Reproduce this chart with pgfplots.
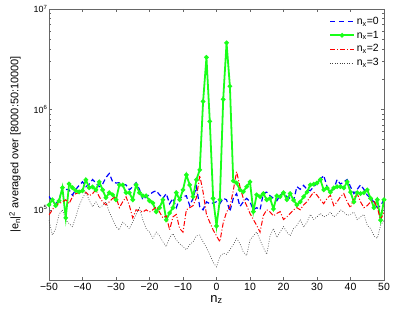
\documentclass[border=0pt]{standalone}
\usepackage{pgfplots}
\pgfplotsset{compat=1.18}
\usepackage{pgfplotstable}
\usepackage{fontspec}
\setmainfont{Liberation Sans}
\definecolor{mgreen}{rgb}{0.1,1,0.1}
\definecolor{mblue}{rgb}{0,0,1}
\definecolor{mred}{rgb}{1,0,0}
\definecolor{mgray}{rgb}{0.25,0.25,0.25}
\pgfplotstableread{
nz b g r k
-50 1.36e5 1.12e5 8.9e4 7.9e4
-49 1.2e5 1.26e5 1.0e5 5.6e4
-48 1.15e5 1.1e5 1.12e5 6.5e4
-47 1.25e5 1.23e5 1.15e5 9.0e4
-46 1.66e5 1.66e5 1.2e5 1.0e5
-45 1.6e5 8.3e4 1.26e5 7.9e4
-44 1.58e5 1.81e5 1.15e5 7.3e4
-43 1.4e5 1.66e5 1.35e5 6.8e4
-42 1.6e5 1.55e5 1.45e5 8.5e4
-41 1.75e5 1.51e5 1.48e5 1.1e5
-40 1.9e5 1.55e5 1.5e5 1.3e5
-39 1.7e5 1.99e5 1.5e5 1.5e5
-38 1.8e5 1.66e5 1.38e5 1.25e5
-37 2.0e5 1.69e5 1.45e5 1.07e5
-36 1.85e5 1.58e5 1.58e5 1.2e5
-35 1.7e5 1.9e5 1.35e5 1.05e5
-34 1.8e5 1.58e5 1.2e5 1.1e5
-33 2.1e5 1.32e5 1.12e5 1.2e5
-32 2.3e5 1.48e5 1.2e5 9.5e4
-31 1.9e5 1.41e5 1.3e5 8.0e4
-30 1.85e5 1.26e5 1.35e5 6.8e4
-29 1.86e5 1.77e5 1.05e5 6.3e4
-28 1.8e5 1.77e5 1.2e5 7.6e4
-27 1.77e5 1.48e5 1.35e5 7.0e4
-26 1.58e5 1.48e5 1.1e5 6.5e4
-25 1.7e5 1.26e5 8.3e4 7.6e4
-24 1.86e5 1.77e5 1.0e5 9.0e4
-23 1.6e5 1.48e5 9.8e4 1.05e5
-22 1.26e5 1.38e5 9.5e4 8.0e4
-21 1.35e5 1.38e5 1.0e5 6.5e4
-20 1.41e5 1.23e5 9.5e4 6.0e4
-19 1.5e5 1.17e5 1.0e5 5.2e4
-18 1.55e5 9.55e4 1.07e5 6.0e4
-17 1.41e5 1.05e5 9.5e4 5.5e4
-16 1.3e5 1.26e5 8.3e4 4.8e4
-15 1.45e5 7.95e4 8.7e4 4.3e4
-14 1.15e5 9.3e4 6.3e4 5.3e4
-13 1.3e5 1.05e5 8.5e4 5.8e4
-12 1.05e5 1.48e5 9.0e4 5.0e4
-11 1.3e5 1.26e5 6.5e4 4.6e4
-10 1.35e5 1.58e5 6.0e4 4.3e4
-9 1.38e5 2.23e5 1.0e5 4.0e4
-8 1.1e5 1.77e5 1.05e5 4.5e4
-7 1.3e5 1.35e5 1.1e5 4.8e4
-6 1.7e5 1.99e5 1.32e5 5.5e4
-5 1.07e5 2.5e5 2.2e5 5.6e4
-4 1.0e5 1.2e6 1.5e5 4.8e4
-3 1.2e5 3.3e6 9.0e4 4.2e4
-2 1.15e5 7.6e5 7.5e4 3.6e4
-1 1.17e5 1.3e5 6.3e4 3.0e4
0 1.2e5 6.9e4 5.5e4 2.7e4
1 1.15e5 1.26e5 4.8e4 3.4e4
2 1.3e5 1.26e6 7.4e4 3.7e4
3 1.26e5 4.6e6 9.5e4 3.6e4
4 9.6e4 1.7e6 1.07e5 4.0e4
5 1.3e5 1.94e5 1.55e5 4.5e4
6 1.45e5 1.85e5 2.4e5 5.2e4
7 1.08e5 1.58e5 1.7e5 4.6e4
8 1.2e5 1.51e5 1.3e5 3.8e4
9 1.3e5 1.7e5 1.1e5 3.5e4
10 1.2e5 1.9e5 9.2e4 5.0e4
11 1.0e5 9.6e4 8.0e4 5.5e4
12 1.05e5 1.41e5 7.0e4 6.0e4
13 1.0e5 1.35e5 6.0e4 5.0e4
14 1.47e5 1.45e5 8.8e4 4.2e4
15 1.5e5 1.26e5 1.0e5 3.6e4
16 1.38e5 1.3e5 9.5e4 5.5e4
17 1.3e5 1.02e5 8.7e4 6.5e4
18 1.23e5 1.38e5 9.2e4 5.3e4
19 1.4e5 1.35e5 9.6e4 6.0e4
20 1.48e5 1.48e5 8.0e4 6.8e4
21 1.35e5 1.26e5 8.5e4 6.0e4
22 1.3e5 1.45e5 9.2e4 5.5e4
23 1.23e5 1.25e5 1.0e5 6.5e4
24 1.7e5 1.12e5 1.05e5 7.0e4
25 1.6e5 1.2e5 1.0e5 8.0e4
26 1.75e5 1.35e5 1.12e5 6.7e4
27 1.6e5 1.5e5 1.2e5 7.5e4
28 1.55e5 1.77e5 1.35e5 9.0e4
29 1.7e5 1.8e5 1.5e5 8.0e4
30 1.85e5 1.85e5 1.4e5 8.5e4
31 2.0e5 2.0e5 1.26e5 9.2e4
32 2.2e5 1.58e5 1.15e5 8.5e4
33 1.7e5 1.65e5 1.3e5 8.8e4
34 1.55e5 1.5e5 1.4e5 9.5e4
35 1.6e5 1.65e5 1.1e5 8.5e4
36 2.0e5 1.7e5 1.2e5 9.0e4
37 1.8e5 1.7e5 1.35e5 1.0e5
38 1.9e5 1.65e5 1.45e5 9.5e4
39 2.0e5 1.9e5 1.2e5 8.8e4
40 1.7e5 1.5e5 1.05e5 9.0e4
41 1.45e5 1.2e5 1.3e5 9.5e4
42 1.6e5 1.48e5 1.45e5 8.0e4
43 1.77e5 1.45e5 1.2e5 8.5e4
44 1.6e5 1.48e5 1.05e5 9.0e4
45 1.4e5 1.58e5 1.1e5 7.0e4
46 1.3e5 1.3e5 1.2e5 6.5e4
47 1.2e5 1.05e5 1.23e5 5.5e4
48 1.05e5 1.26e5 1.05e5 5.2e4
49 1.1e5 7.9e4 7.9e4 7.0e4
50 1.26e5 1.26e5 9.6e4 7.9e4
}\data
\begin{document}
\begin{tikzpicture}
\begin{axis}[
  scale only axis, width=335bp, height=271bp,
  ymode=log, xmin=-50, xmax=50, ymin=2e4, ymax=1e7,
  axis line style={draw=gray!80!black, line width=0.7pt},
  tick style={gray!80!black, line width=0.5pt},
  major tick length=3.5bp, minor tick length=2bp,
  tick align=inside,
  xtick={-50,-40,...,50},
  xticklabels={−50,−40,−30,−20,−10,0,10,20,30,40,50},
  ytick={1e5,1e6,1e7},
  yticklabels={10\textsuperscript{5},10\textsuperscript{6},10\textsuperscript{7}},
  yticklabel style={font=\fontsize{9}{10}\selectfont, xshift=2bp},
  xticklabel style={font=\fontsize{10.5}{12}\selectfont},
  xlabel={n\textsubscript{z}},
  xlabel style={font=\fontsize{13}{14}\selectfont, at={(rel axis cs:0.5,0)}, anchor=north, inner sep=0pt, yshift=-15bp},
  ylabel={|e\textsubscript{n}|\textsuperscript{2} averaged over [8000:50:10000]},
  ylabel style={font=\fontsize{11}{12}\selectfont, at={(rel axis cs:0,0.5)}, anchor=center, yshift=34bp},
  legend style={draw=none, fill=none, at={(rel axis cs:1,1)}, anchor=north east, xshift=-2bp, yshift=-5bp,
    font=\fontsize{10.5}{12}\selectfont, row sep=1bp, inner sep=1bp},
  legend cell align=left,
]
\addplot[color=mblue, line width=1.2pt, dash pattern=on 5bp off 3bp,
  legend image code/.code={\draw[mblue, solid, line width=1.2pt] (0bp,0bp) -- (5bp,0bp) (9bp,0bp) -- (14bp,0bp) (18bp,0bp) -- (23bp,0bp);}] table[x=nz,y=b]{\data};
\addlegendentry{n\textsubscript{x}=0}
\addplot[color=mgreen, line width=1.8pt, mark=*, mark size=1.3pt, mark options={solid},
  legend image code/.code={\draw[mgreen, solid, line width=1.8pt] (0bp,0bp) -- (24bp,0bp); \fill[mgreen] (12bp,0bp) circle (1.3pt);}] table[x=nz,y=g]{\data};
\addlegendentry{n\textsubscript{x}=1}
\addplot[color=mred, line width=1pt, dash pattern=on 5bp off 2bp on 1bp off 2bp,
  legend image code/.code={\draw[mred, solid, line width=1pt] (0bp,0bp) -- (5bp,0bp) (7bp,0bp) -- (8bp,0bp) (10bp,0bp) -- (15bp,0bp) (17bp,0bp) -- (18bp,0bp) (20bp,0bp) -- (24bp,0bp);}] table[x=nz,y=r]{\data};
\addlegendentry{n\textsubscript{x}=2}
\addplot[color=mgray, line width=0.6pt, dash pattern=on 0.8bp off 1.6bp,
  legend image code/.code={\draw[mgray, solid, line width=0.6pt] (0bp,0bp) -- (0.8bp,0bp) (2.4bp,0bp) -- (3.2bp,0bp) (4.8bp,0bp) -- (5.6bp,0bp) (7.2bp,0bp) -- (8bp,0bp) (9.6bp,0bp) -- (10.4bp,0bp) (12bp,0bp) -- (12.8bp,0bp) (14.4bp,0bp) -- (15.2bp,0bp) (16.8bp,0bp) -- (17.6bp,0bp) (19.2bp,0bp) -- (20bp,0bp) (21.6bp,0bp) -- (22.4bp,0bp);}] table[x=nz,y=k]{\data};
\addlegendentry{n\textsubscript{x}=3}
\end{axis}
\pgfresetboundingbox
\useasboundingbox ([xshift=-49bp,yshift=-34bp]current axis.south west) rectangle ([xshift=9bp,yshift=9bp]current axis.north east);
\end{tikzpicture}
\end{document}
